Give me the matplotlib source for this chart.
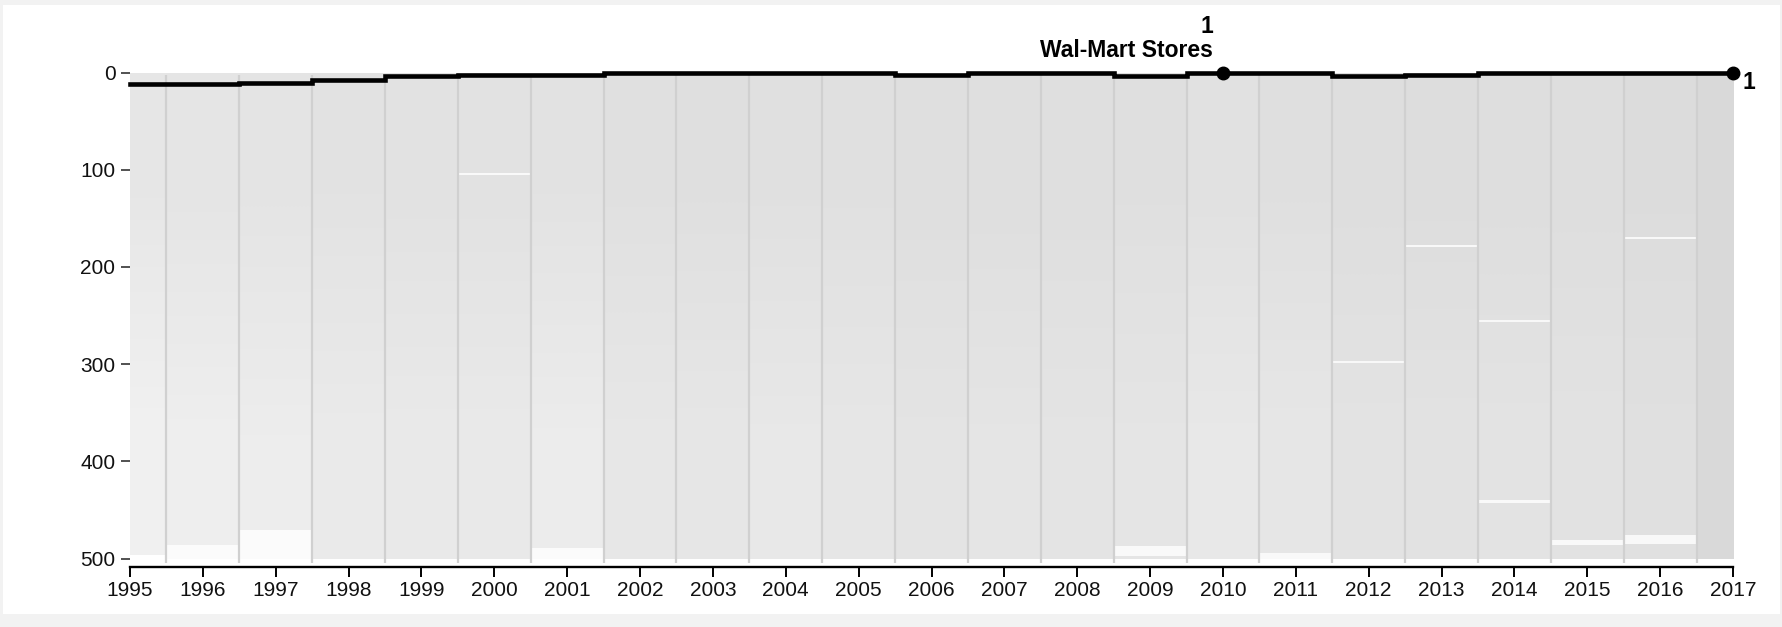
"""Fortune 500 rank history, 1995-2017, with Wal-Mart Stores highlighted."""

import matplotlib
matplotlib.use("Agg")
import matplotlib.pyplot as plt
from matplotlib.colors import LinearSegmentedColormap
from matplotlib.patches import Rectangle

plt.rcParams["font.family"] = ["Liberation Sans", "DejaVu Sans"]

# ---- data -----------------------------------------------------------------
years = list(range(1995, 2018))
walmart_rank = [12, 12, 11, 8, 4, 3, 3, 1, 1, 1, 1, 3, 1, 1, 4, 1, 1, 4, 3, 1, 1, 1, 1]
highlight_name = "Wal-Mart Stores"
highlight_year = 2010

# share of rank rows carrying a grey company line, near the top and near the
# bottom of each year column (read by eye)
coverage_upper = [0.62, 0.66, 0.68, 0.72, 0.74, 0.74, 0.72, 0.78, 0.80, 0.78, 0.78,
                  0.82, 0.82, 0.82, 0.80, 0.76, 0.80, 0.84, 0.86, 0.84, 0.84, 0.88, 0.95]
coverage_lower = [0.36, 0.42, 0.46, 0.52, 0.54, 0.54, 0.48, 0.60, 0.62, 0.58, 0.62,
                  0.68, 0.66, 0.68, 0.66, 0.58, 0.62, 0.70, 0.72, 0.70, 0.72, 0.78, 0.95]
# last rank reached by the grey lines in each year column
column_bottom = [496, 500, 500, 500, 500, 500, 500, 500, 500, 500, 500,
                 500, 500, 500, 500, 500, 500, 500, 500, 500, 500, 500, 500]
# clearly visible white bands (year, first rank, last rank)
gap_year = [1996, 1997, 2000, 2009, 2011, 2012, 2013, 2014, 2014, 2015, 2016, 2016, 2001]
gap_from = [486, 470, 103, 487, 494, 297, 177, 254, 440, 481, 476, 169, 489]
gap_to = [500, 500, 105, 497, 500, 299, 179, 257, 443, 486, 485, 171, 500]
y_ticks = [0, 100, 200, 300, 400, 500]

# ---- figure ---------------------------------------------------------------
W, H = 1783, 627
fig = plt.figure(figsize=(W / 100, H / 100), dpi=100, facecolor="#f2f2f2")
fig.patches.append(Rectangle((3 / W, 1 - 614 / H), 1777 / W, 609 / H,
                             transform=fig.transFigure, facecolor="white",
                             edgecolor="none", zorder=-10))

ax = fig.add_axes([130 / W, 1 - 567 / H, 1603 / W, (567 - 72.5) / H])
ax.set_facecolor("none")

# grey columns: density of the company lines of one year, centred on the year
density_cmap = LinearSegmentedColormap.from_list("density", ["#ffffff", "#d8d8d8"])
for yr, cu, cl, bot in zip(years, coverage_upper, coverage_lower, column_bottom):
    ax.imshow([[cu], [cl]], cmap=density_cmap, vmin=0, vmax=1,
              extent=(yr - 0.5, yr + 0.5, bot, 0), aspect="auto",
              interpolation="bilinear", zorder=1)
for yr, r0, r1 in zip(gap_year, gap_from, gap_to):
    ax.add_patch(Rectangle((yr - 0.5, r0), 1.0, r1 - r0, facecolor="white",
                           edgecolor="none", alpha=0.8, zorder=1.5))

# the vertical parts of the step lines stack up at the year boundaries
bounds = [y + 0.5 for y in years[:-1]]
ax.vlines(bounds, 3, 504, color="#d0d0d0", linewidth=1.6, zorder=2)

# highlighted company
ax.step(years, walmart_rank, where="mid", color="black", linewidth=3.3,
        solid_joinstyle="miter", zorder=5, clip_on=False)
hi = years.index(highlight_year)
ax.plot([highlight_year, years[-1]], [walmart_rank[hi], walmart_rank[-1]],
        "o", color="black", markersize=9, linestyle="none", zorder=6, clip_on=False)

ax.annotate(highlight_name, xy=(highlight_year, walmart_rank[hi]),
            xytext=(-7, 12), textcoords="offset points", ha="right",
            va="baseline", fontsize=16.5, fontweight="bold", color="black")
ax.annotate(str(walmart_rank[hi]), xy=(highlight_year, walmart_rank[hi]),
            xytext=(-7, 29), textcoords="offset points", ha="right",
            va="baseline", fontsize=16.5, fontweight="bold", color="black")
ax.annotate(str(walmart_rank[-1]), xy=(years[-1], walmart_rank[-1]),
            xytext=(7, 1.5), textcoords="offset points", ha="left",
            va="top", fontsize=16.5, fontweight="bold", color="black",
            annotation_clip=False)

# axes
ax.set_xlim(1995, 2017)
ax.set_ylim(508.5, 0)
ax.set_xticks(years)
ax.set_xticklabels([str(y) for y in years])
ax.set_yticks(y_ticks)

for side in ("top", "right", "left"):
    ax.spines[side].set_visible(False)
ax.spines["bottom"].set_linewidth(1.7)
ax.spines["bottom"].set_color("black")

ax.tick_params(axis="x", length=7.2, width=1.4, color="black", pad=3,
               labelsize=15, labelcolor="#111111")
ax.tick_params(axis="y", length=6.5, width=1.1, color="#222222", pad=4,
               labelsize=15, labelcolor="#111111")

fig.savefig("out.png", dpi=100, facecolor=fig.get_facecolor())
